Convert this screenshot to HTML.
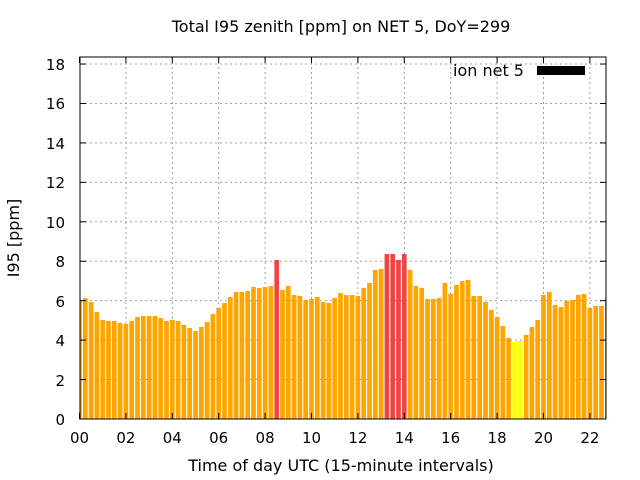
<!DOCTYPE html>
<html><head><meta charset="utf-8"><style>
body{margin:0;background:#fff}
svg{display:block;font-family:"DejaVu Sans",sans-serif}
</style></head><body>
<svg id="s" width="640" height="480" viewBox="0 0 640 480" xmlns="http://www.w3.org/2000/svg">
<rect width="640" height="480" fill="#fff"/>
<g id="grid" stroke="#a0a0a0" stroke-width="1" stroke-dasharray="2,3"></g>
<g id="bars"></g>
<rect x="80" y="57" width="526" height="362" fill="none" stroke="#000" stroke-width="1"/>
<g id="ticks" stroke="#000" stroke-width="1"></g>
<g font-size="15" fill="#000" text-anchor="end">
<text x="65" y="425">0</text><text x="65" y="386">2</text><text x="65" y="346">4</text>
<text x="65" y="307">6</text><text x="65" y="267">8</text><text x="65" y="228">10</text>
<text x="65" y="188">12</text><text x="65" y="149">14</text><text x="65" y="109">16</text>
<text x="65" y="70">18</text>
</g>
<g font-size="15" fill="#000" text-anchor="middle">
<text x="79.5" y="443">00</text><text x="125.9" y="443">02</text><text x="172.3" y="443">04</text>
<text x="218.7" y="443">06</text><text x="265.1" y="443">08</text><text x="311.5" y="443">10</text>
<text x="357.9" y="443">12</text><text x="404.3" y="443">14</text><text x="450.7" y="443">16</text>
<text x="497.1" y="443">18</text><text x="543.5" y="443">20</text><text x="589.9" y="443">22</text>
</g>
<g font-size="16" fill="#000" text-anchor="middle">
<text x="341" y="471">Time of day UTC (15-minute intervals)</text>
<text x="341" y="32">Total I95 zenith [ppm] on NET 5, DoY=299</text>
<text x="0" y="0" transform="translate(19,238) rotate(-90)">I95 [ppm]</text>
</g>
<text x="453" y="76" font-size="16" fill="#000">ion net 5</text>
<rect x="537" y="66" width="48" height="9" fill="#000"/>
</svg>
<script>
var z=[184,174,186,216,240,243,243,249,252,243,231,228,228,228,234,243,240,243,255,264,273,261,246,222,204,189,171,156,156,153,141,144,141,138,60,150,138,165,168,180,177,171,186,189,
174,159,165,165,168,144,129,90,87,42,42,60,42,90,138,144,177,177,174,129,162,135,123,120,168,168,186,210,231,258,294,306,303,285,261,240,165,156,195,201,183,180,165,162,204,198,198,174];
var ns="http://www.w3.org/2000/svg",b=document.getElementById("bars"),g=document.getElementById("grid"),t=document.getElementById("ticks");
function el(p,n,a){var e=document.createElementNS(ns,n);for(var k in a)e.setAttribute(k,a[k]);p.appendChild(e);}
for(var i=0;i<z.length;i++){var y=240+z[i]/3,c=79.5+5.8*i,x0=Math.max(80,c-2.35),x1=Math.min(606,c+2.35);
var col=(i==34||(i>=53&&i<=56))?"#f04545":((i==75||i==76)?"#ffff00":"#ffa500");
el(b,"rect",{x:x0,y:y,width:x1-x0,height:419-y,fill:col});}
for(var v=2;v<=18;v+=2){var y=419-v*19.72;el(g,"line",{x1:80,x2:606,y1:y,y2:y});}
for(var h=2;h<=22;h+=2){var x=79.5+h*23.2;el(g,"line",{x1:x,x2:x,y1:57,y2:419});}
for(var v=0;v<=18;v+=2){var y=419-v*19.72;el(t,"line",{x1:80,x2:86,y1:y,y2:y});el(t,"line",{x1:600,x2:606,y1:y,y2:y});}
for(var h=0;h<=22;h+=2){var x=79.5+h*23.2;el(t,"line",{x1:x,x2:x,y1:419,y2:413});el(t,"line",{x1:x,x2:x,y1:57,y2:63});}
</script>
</body></html>
